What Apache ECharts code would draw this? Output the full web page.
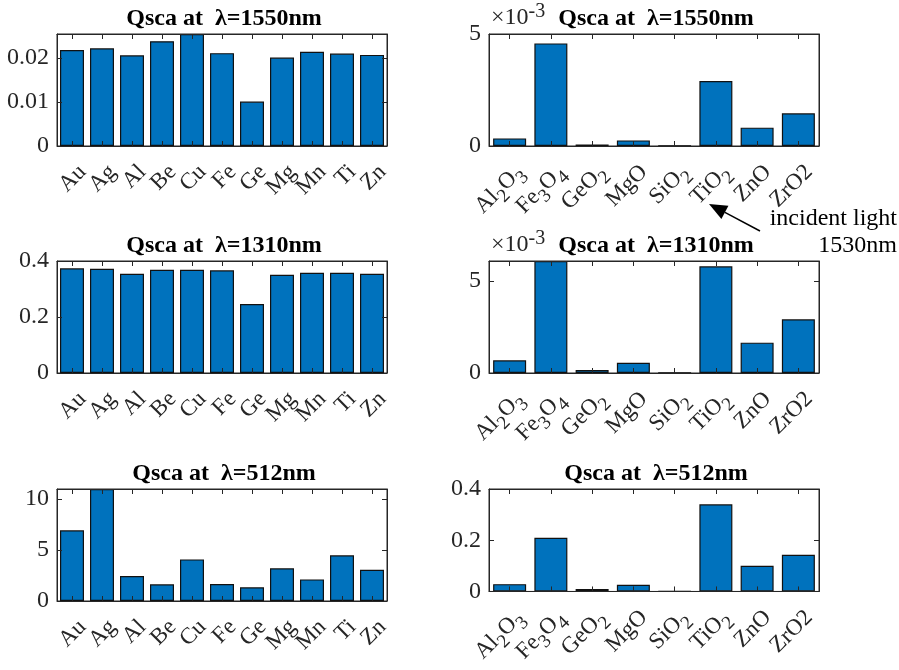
<!DOCTYPE html>
<html>
<head>
<meta charset="utf-8">
<script src="https://cdn.jsdelivr.net/npm/echarts@6/dist/echarts.min.js"></script>
<style>
  html, body { margin: 0; padding: 0; background: #fff; }
  #chart { width: 899px; height: 670px; }
</style>
</head>
<body>
<div id="chart"></div>
<script>
// categories
const metals = ['Au', 'Ag', 'Al', 'Be', 'Cu', 'Fe', 'Ge', 'Mg', 'Mn', 'Ti', 'Zn']
const oxides = ['Al_2O_3', 'Fe_3O_4', 'GeO_2', 'MgO', 'SiO_2', 'TiO_2', 'ZnO', 'ZrO2']

// Qsca values
const metal1550 = [0.0218, 0.0222, 0.0206, 0.0238, 0.02545, 0.0211, 0.0101, 0.0201, 0.0214, 0.0210, 0.0207]
const oxide1550 = [0.00034, 0.00458, 0.00007, 0.00025, 0.000005, 0.00290, 0.00082, 0.00146]
const metal1310 = [0.3737, 0.3725, 0.3546, 0.369, 0.369, 0.3666, 0.246, 0.351, 0.358, 0.358, 0.3546]
const oxide1310 = [0.00069, 0.00609, 0.00016, 0.00056, 0.000003, 0.00580, 0.00165, 0.00292]
const metal512 = [6.93, 10.98, 2.45, 1.63, 4.08, 1.67, 1.34, 3.2, 2.12, 4.48, 3.07]
const oxide512 = [0.0286, 0.2095, 0.0095, 0.026, 0.001, 0.340, 0.100, 0.143]

// y ticks
const ticks1550m = [0, 0.01, 0.02]
const ticks1550o = [0, 0.005]
const ticks1310m = [0, 0.2, 0.4]
const ticks1310o = [0, 0.005]
const ticks512m = [0, 5, 10]
const ticks512o = [0, 0.2, 0.4]

const FONT = 'Liberation Serif'
const INK = '#262626'

const panels = [
  {title: 'Qsca at  λ=1550nm', cats: metals, vals: metal1550, ticks: ticks1550m, max: 0.02545, grid: {left: 57, top: 34}},
  {title: 'Qsca at  λ=1550nm', cats: oxides, vals: oxide1550, ticks: ticks1550o, max: 0.005, grid: {left: 489, top: 34}, milli: true},
  {title: 'Qsca at  λ=1310nm', cats: metals, vals: metal1310, ticks: ticks1310m, max: 0.4, grid: {left: 57, top: 261}},
  {title: 'Qsca at  λ=1310nm', cats: oxides, vals: oxide1310, ticks: ticks1310o, max: 0.00609, grid: {left: 489, top: 261}, milli: true},
  {title: 'Qsca at  λ=512nm', cats: metals, vals: metal512, ticks: ticks512m, max: 10.98, grid: {left: 57, top: 489}},
  {title: 'Qsca at  λ=512nm', cats: oxides, vals: oxide512, ticks: ticks512o, max: 0.4, grid: {left: 489, top: 489}}
]

const GW = 330
const GH = 112

// "Al_2O_3" -> rich text with subscripts
function subLabel (s) {
  return s.replace(/_(\d)/g, '{s|$1}')
}

let grid = []
let xAxis = []
let yAxis = []
let series = []
let title = []
let graphic = []

panels.forEach((p, i) => {
  const n = p.cats.length
  // grid border gives the closed MATLAB box
  grid.push({left: p.grid.left, top: p.grid.top, width: GW, height: GH,
    show: true, borderColor: INK, borderWidth: 1, backgroundColor: 'transparent'})
  // bottom axis with labels
  xAxis.push({
    type: 'category', gridIndex: i, data: p.cats, position: 'bottom', z: 5,
    axisLine: {show: true, onZero: false, lineStyle: {color: INK, width: 1}},
    axisTick: {show: true, inside: true, alignWithLabel: true, length: 5, lineStyle: {color: INK}},
    axisLabel: {
      rotate: 45, interval: 0, margin: 12, color: INK, fontFamily: FONT, fontSize: 23,
      padding: [30, 0, 0, 0],
      formatter: subLabel,
      rich: {s: {fontFamily: FONT, fontSize: 19, color: INK, padding: [16, 0, 0, 0]}}
    }
  })
  // top mirror ticks: value axis spanning the same bands, ticks on category centres
  xAxis.push({
    type: 'value', gridIndex: i, position: 'top', min: -0.5, max: n - 0.5, z: 5,
    axisLine: {show: true, onZero: false, lineStyle: {color: INK, width: 1}},
    axisTick: {show: true, inside: true, length: 5, customValues: p.cats.map((c, k) => k), lineStyle: {color: INK}},
    splitLine: {show: false},
    axisLabel: {show: false}
  })
  yAxis.push({
    type: 'value', gridIndex: i, min: 0, max: p.max, position: 'left', z: 5,
    axisLine: {show: true, onZero: false, lineStyle: {color: INK, width: 1}},
    axisTick: {show: true, inside: true, length: 5, customValues: p.ticks, lineStyle: {color: INK}},
    splitLine: {show: false},
    axisLabel: {
      customValues: p.ticks, margin: 8, color: INK, fontFamily: FONT, fontSize: 24,
      formatter: v => p.milli ? String(Math.round(v * 1000)) : String(+v.toFixed(4))
    }
  })
  yAxis.push({
    type: 'value', gridIndex: i, min: 0, max: p.max, position: 'right', z: 5,
    axisLine: {show: true, onZero: false, lineStyle: {color: INK, width: 1}},
    axisTick: {show: true, inside: true, length: 5, customValues: p.ticks, lineStyle: {color: INK}},
    splitLine: {show: false},
    axisLabel: {show: false}
  })
  series.push({
    type: 'bar', xAxisIndex: i * 2, yAxisIndex: i * 2, data: p.vals,
    barCategoryGap: '20%',
    itemStyle: {color: '#0072BD', borderColor: '#111', borderWidth: 1.2},
    emphasis: {disabled: true}
  })
  title.push({
    text: p.title, left: p.grid.left + GW / 2 - 3, top: p.grid.top - 32, textAlign: 'center',
    textStyle: {fontFamily: FONT, fontSize: 24, fontWeight: 'bold', color: '#000'}
  })
  if (p.milli) {
    graphic.push({
      type: 'text', left: p.grid.left + 2, top: p.grid.top - 32,
      style: {
        text: '×10{e|-3}', fontFamily: FONT, fontSize: 24, fill: INK,
        rich: {e: {fontFamily: FONT, fontSize: 20, fill: INK, verticalAlign: 'top', padding: [0, 0, 12, 0]}}
      }
    })
  }
})

// annotation arrow + text
const tail = [760, 231]
const tip = [709, 204]
const dx = tip[0] - tail[0]
const dy = tip[1] - tail[1]
const len = Math.sqrt(dx * dx + dy * dy)
const ux = dx / len
const uy = dy / len
const headL = 18
const headW = 7.5
const bx = tip[0] - ux * headL
const by = tip[1] - uy * headL
graphic.push({
  type: 'line', shape: {x1: tail[0], y1: tail[1], x2: bx, y2: by},
  style: {stroke: '#000', lineWidth: 1.5}
})
graphic.push({
  type: 'polygon',
  shape: {points: [tip, [bx - uy * headW, by + ux * headW], [bx + uy * headW, by - ux * headW]]},
  style: {fill: '#000'}
})
graphic.push({
  type: 'text', right: 2, top: 207,
  style: {text: 'incident light', fontFamily: FONT, fontSize: 24, fill: '#000', textAlign: 'right'}
})
graphic.push({
  type: 'text', right: 2, top: 234,
  style: {text: '1530nm', fontFamily: FONT, fontSize: 24, fill: '#000', textAlign: 'right'}
})

const chart = echarts.init(document.getElementById('chart'), null, {renderer: 'canvas'})
chart.setOption({
  animation: false,
  backgroundColor: '#fff',
  title: title,
  grid: grid,
  xAxis: xAxis,
  yAxis: yAxis,
  series: series,
  graphic: graphic
})
</script>
</body>
</html>
